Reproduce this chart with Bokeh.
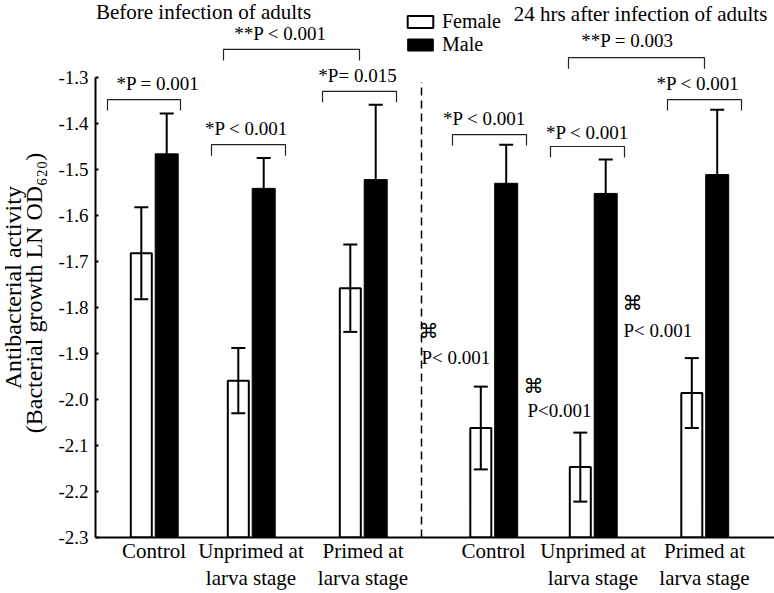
import math
from bokeh.plotting import figure
from bokeh.layouts import row
from bokeh.models import (ColumnDataSource, Range1d, FixedTicker, LinearAxis, Whisker,
                          TeeHead, Legend, LegendItem, PrintfTickFormatter)
from bokeh.core.properties import value
from bokeh.embed import file_html
from bokeh.resources import INLINE

FONT = "Liberation Serif"

# ---- data ----
group_pos = [0.585, 1.555, 2.675, 3.98, 4.975, 6.09]
tick_line1 = ["Control", "Unprimed at", "Primed at", "Control", "Unprimed at", "Primed at"]
tick_line2 = ["", "larva stage", "larva stage", "", "larva stage", "larva stage"]

female_mean = [-1.682, -1.959, -1.758, -2.062, -2.147, -1.986]
female_se = [0.100, 0.071, 0.095, 0.090, 0.075, 0.076]
male_mean = [-1.466, -1.541, -1.522, -1.530, -1.552, -1.511]
male_se = [0.088, 0.066, 0.163, 0.084, 0.074, 0.141]

y_ticks = [-2.3, -2.2, -2.1, -2.0, -1.9, -1.8, -1.7, -1.6, -1.5, -1.4, -1.3]
y_label_lines = ["Antibacterial activity", "(Bacterial growth  LN OD\u2086\u2082\u2080)"]
y_label_x = [12, 33]
y_label_y = [-1.757, -1.762]

# comparison brackets: left x, right x, bracket level
bracket_x0 = [0.12, 1.16, 2.27, 1.28, 3.57, 4.55, 5.72, 4.73]
bracket_x1 = [0.85, 1.90, 3.01, 2.64, 4.31, 5.29, 6.46, 6.09]
bracket_y = [-1.348, -1.446, -1.330, -1.239, -1.424, -1.450, -1.348, -1.257]
bracket_leg = 0.024

p_text = ["*P = 0.001", "*P < 0.001", "*P= 0.015", "**P < 0.001",
          "*P < 0.001", "*P < 0.001", "*P < 0.001", "**P = 0.003"]
p_text_x = [0.625, 1.51, 2.62, 1.85, 3.89, 4.92, 6.025, 5.32]
p_text_y = [-1.313, -1.411, -1.296, -1.204, -1.389, -1.420, -1.313, -1.220]

sym_x = [3.33, 4.38, 5.37]
sym_y = [-1.850, -1.970, -1.791]
sym_p_text = ["P< 0.001", "P<0.001", "P< 0.001"]
sym_p_x = [3.26, 4.32, 5.28]
sym_p_y = [-1.909, -2.024, -1.850]

titles = ["Before infection of adults", "24 hrs after infection of adults"]
title_x = [1.08, 5.45]
title_y = [-1.157, -1.161]

divider_x = 3.26
divider_top = -1.31

baseline = -2.3
bar_offset = 0.127

Y_RANGE = (-2.3, -1.1326)
FIG_H = 593
BOTTOM = 56
LABEL_W = 50

# ---- y-axis title panel ----
lab = figure(width=LABEL_W, height=FIG_H, x_range=Range1d(0, LABEL_W), y_range=Range1d(*Y_RANGE),
             output_backend="svg", toolbar_location=None, x_axis_type=None, y_axis_type=None,
             min_border_left=0, min_border_right=0, min_border_top=0, min_border_bottom=BOTTOM)
lab.outline_line_color = None
lab.background_fill_color = "white"
lab.border_fill_color = "white"
lab.text(x=y_label_x, y=y_label_y, text=y_label_lines, angle=math.pi / 2,
         text_font=value(FONT), text_font_size="24px", text_color="black",
         text_align="center", text_baseline="middle")

# ---- main figure ----
p = figure(width=774 - LABEL_W, height=FIG_H, x_range=Range1d(0, 6.79), y_range=Range1d(*Y_RANGE),
           output_backend="svg", toolbar_location=None, x_axis_type=None, y_axis_type=None,
           min_border_left=95 - LABEL_W, min_border_right=0, min_border_top=0,
           min_border_bottom=BOTTOM)
p.outline_line_color = None
p.background_fill_color = "white"
p.border_fill_color = "white"

yaxis = LinearAxis(ticker=FixedTicker(ticks=y_ticks), formatter=PrintfTickFormatter(format="%.1f"),
                   bounds=(-2.3, -1.3))
yaxis.axis_line_width = 2
yaxis.major_tick_in = 3
yaxis.major_tick_out = 0
yaxis.major_tick_line_width = 2
yaxis.minor_tick_line_color = None
yaxis.major_label_standoff = 7
yaxis.major_label_text_font = FONT
yaxis.major_label_text_font_size = "19px"
yaxis.major_label_text_color = "black"
p.add_layout(yaxis, "left")

xaxis1 = LinearAxis(ticker=FixedTicker(ticks=group_pos),
                    major_label_overrides={g: t for g, t in zip(group_pos, tick_line1)})
xaxis1.axis_line_width = 2
xaxis1.major_tick_line_color = None
xaxis1.major_tick_in = 0
xaxis1.major_tick_out = 0
xaxis1.minor_tick_line_color = None
xaxis1.major_label_standoff = 1
xaxis1.major_label_text_font = FONT
xaxis1.major_label_text_font_size = "21px"
xaxis1.major_label_text_color = "black"
p.add_layout(xaxis1, "below")

xaxis2 = LinearAxis(ticker=FixedTicker(ticks=group_pos),
                    major_label_overrides={g: t for g, t in zip(group_pos, tick_line2)})
xaxis2.axis_line_color = None
xaxis2.major_tick_line_color = None
xaxis2.major_tick_in = 0
xaxis2.major_tick_out = 0
xaxis2.minor_tick_line_color = None
xaxis2.major_label_standoff = 0
xaxis2.major_label_text_font = FONT
xaxis2.major_label_text_font_size = "21px"
xaxis2.major_label_text_color = "black"
p.add_layout(xaxis2, "below")

# bars
src_f = ColumnDataSource(dict(
    x=[g - bar_offset for g in group_pos], top=female_mean,
    upper=[m + s for m, s in zip(female_mean, female_se)],
    lower=[m - s for m, s in zip(female_mean, female_se)]))
src_m = ColumnDataSource(dict(
    x=[g + bar_offset for g in group_pos], top=male_mean,
    upper=[m + s for m, s in zip(male_mean, male_se)],
    lower=[m - s for m, s in zip(male_mean, male_se)]))

rf = p.vbar(x="x", top="top", bottom=baseline, width=0.21, source=src_f,
            fill_color="white", line_color="black", line_width=2)
rm = p.vbar(x="x", top="top", bottom=baseline, width=0.23, source=src_m,
            fill_color="black", line_color="black", line_width=1)

for src in (src_f, src_m):
    p.add_layout(Whisker(source=src, base="x", upper="upper", lower="lower",
                         line_width=2, line_color="black", level="annotation",
                         upper_head=TeeHead(size=14, line_width=2, line_color="black"),
                         lower_head=TeeHead(size=14, line_width=2, line_color="black")))

# brackets
bxs = [[a, a, b, b] for a, b in zip(bracket_x0, bracket_x1)]
bys = [[y - bracket_leg, y, y, y - bracket_leg] for y in bracket_y]
p.multi_line(xs=bxs, ys=bys, line_color="#222222", line_width=1.2)

# p-value texts
p.text(x=p_text_x, y=p_text_y, text=p_text, text_font=value(FONT), text_font_size="19px",
       text_align="center", text_baseline="middle", text_color="black")

# symbol annotations
p.text(x=sym_x, y=sym_y, text=["\u2318"] * len(sym_x), text_font=value("DejaVu Sans"),
       text_font_size="20px", text_align="center", text_baseline="middle", text_color="black")
p.text(x=sym_p_x, y=sym_p_y, text=sym_p_text, text_font=value(FONT), text_font_size="19px",
       text_align="left", text_baseline="middle", text_color="black")

# titles
p.text(x=title_x, y=title_y, text=titles, text_font=value(FONT), text_font_size="21px",
       text_align="center", text_baseline="middle", text_color="black")

# divider
p.segment(x0=[divider_x], y0=[baseline], x1=[divider_x], y1=[divider_top],
          line_color="black", line_width=1.5, line_dash="8 5")

legend = Legend(items=[LegendItem(label="Female", renderers=[rf]),
                       LegendItem(label="Male", renderers=[rm])],
                location=(309, 481), orientation="vertical")
legend.glyph_width = 32
legend.glyph_height = 15
legend.label_standoff = 6
legend.spacing = -5
legend.padding = 0
legend.margin = 0
legend.border_line_color = None
legend.background_fill_alpha = 0
legend.label_text_font = FONT
legend.label_text_font_size = "20px"
legend.label_text_color = "black"
p.add_layout(legend)

layout = row(lab, p, spacing=0)
open("out.html", "w").write(file_html(layout, INLINE))
